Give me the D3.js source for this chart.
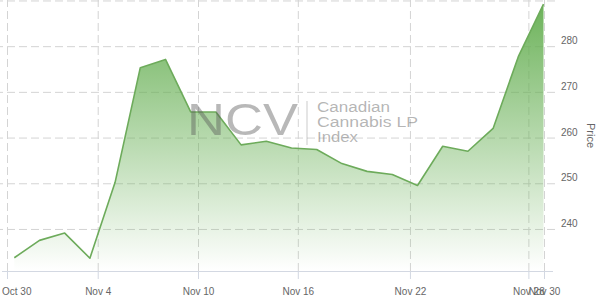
<!DOCTYPE html>
<html>
<head>
<meta charset="utf-8">
<script src="https://cdn.jsdelivr.net/npm/d3@7"></script>
<style>
  body { margin: 0; background: #fff; }
  svg { display: block; font-family: "Liberation Sans", Arial, sans-serif; }
</style>
</head>
<body>
<div id="chart"></div>
<script>
// daily closes, one per trading day (ordinal axis)
const prices = [233.7, 237.5, 239.1, 233.6, 250.2, 275.3, 277.1, 265.6, 265.6, 258.4, 259.2,
                257.7, 257.4, 254.3, 252.6, 251.9, 249.5, 258.1, 257.0, 262.0, 277.7, 289.2];
const tickLabels = ["Oct 30", "Nov 4", "Nov 10", "Nov 16", "Nov 22", "Nov 28", "Nov 30"];
const tickAt = [-0.29, 3.31, 7.29, 11.25, 15.7, 20.4, 21.02]; // position on the ordinal (point index) axis
const gridTicks = [240, 250, 260, 270, 280, 290];
const priceLabels = [240, 250, 260, 270, 280];

const width = 598, height = 298;
const plot = { left: 0, right: 555, top: 0, bottom: 271 };

const svg = d3.select("#chart").append("svg")
    .attr("width", width)
    .attr("height", height);

const x = d3.scaleLinear().domain([0, prices.length - 1]).range([14.3, 543.5]);
const y = d3.scaleLinear().domain([230.8, 290.1]).range([plot.bottom, plot.top]);

const defs = svg.append("defs");
const grad = defs.append("linearGradient")
    .attr("id", "areaFill")
    .attr("x1", 0).attr("y1", 0).attr("x2", 0).attr("y2", 1);
grad.append("stop").attr("offset", "0%").attr("stop-color", "#68b055").attr("stop-opacity", 0.97);
grad.append("stop").attr("offset", "100%").attr("stop-color", "#68b055").attr("stop-opacity", 0);

// horizontal grid
svg.append("g")
    .attr("class", "grid")
    .attr("transform", `translate(${plot.right},0)`)
    .call(d3.axisLeft(y).tickValues(gridTicks).tickSize(plot.right - plot.left).tickFormat(""))
    .call(g => g.select(".domain").remove())
    .call(g => g.selectAll("line")
        .attr("stroke", "#d4d4d4")
        .attr("stroke-dasharray", "8,4"));

// vertical grid
svg.append("g")
    .attr("class", "grid")
    .attr("transform", `translate(0,${plot.bottom})`)
    .call(d3.axisTop(x).tickValues(tickAt).tickSize(plot.bottom - plot.top).tickFormat(""))
    .call(g => g.select(".domain").remove())
    .call(g => g.selectAll("line")
        .attr("stroke", "#d4d4d4")
        .attr("stroke-dasharray", "8,4"));

const area = d3.area()
    .x((d, i) => x(i))
    .y0(plot.bottom)
    .y1(d => y(d));

const line = d3.line()
    .x((d, i) => x(i))
    .y(d => y(d));

svg.append("path")
    .datum(prices)
    .attr("fill", "url(#areaFill)")
    .attr("d", area);

svg.append("path")
    .datum(prices)
    .attr("fill", "none")
    .attr("stroke", "#6dab5b")
    .attr("stroke-width", 1.6)
    .attr("stroke-linejoin", "round")
    .attr("d", line);

// watermark
const mark = svg.append("g").attr("class", "watermark");
mark.append("text")
    .attr("x", 187).attr("y", 135)
    .attr("font-size", 45)
    .attr("textLength", 111)
    .attr("lengthAdjust", "spacingAndGlyphs")
    .attr("fill", "#555")
    .attr("fill-opacity", 0.42)
    .text("NCV");
mark.append("line")
    .attr("x1", 307).attr("x2", 307)
    .attr("y1", 101).attr("y2", 145)
    .attr("stroke", "#999")
    .attr("stroke-opacity", 0.5);
const subLines = ["Canadian", "Cannabis LP", "Index"];
const subWidths = [73, 101, 41];
mark.selectAll("text.sub")
    .data(subLines)
    .join("text")
    .attr("class", "sub")
    .attr("x", 317)
    .attr("y", (d, i) => 112 + i * 15)
    .attr("font-size", 14)
    .attr("textLength", (d, i) => subWidths[i])
    .attr("lengthAdjust", "spacingAndGlyphs")
    .attr("fill", "#777")
    .attr("fill-opacity", 0.55)
    .text(d => d);

// x axis
svg.append("line")
    .attr("x1", 2).attr("x2", 553)
    .attr("y1", plot.bottom + 0.5).attr("y2", plot.bottom + 0.5)
    .attr("stroke", "#d3d8e2");

const xAxis = svg.append("g")
    .attr("transform", `translate(0,${plot.bottom})`)
    .call(d3.axisBottom(x)
        .tickValues(tickAt)
        .tickFormat((d, i) => tickLabels[i])
        .tickSize(8)
        .tickPadding(9));
xAxis.select(".domain").remove();
xAxis.selectAll("line").attr("stroke", "#d3d8e2");
xAxis.selectAll("text")
    .attr("fill", "#666")
    .attr("font-size", 10)
    .attr("font-family", "Liberation Sans, Arial, sans-serif");
// keep labels inside the chart, like the original
xAxis.selectAll(".tick").each(function () {
    const t = d3.select(this).select("text");
    const tx = +d3.select(this).attr("transform").match(/translate\(([-\d.]+)/)[1];
    const left = tx + t.node().getBBox().x;
    if (left < 2) t.attr("x", 2 - left);
});

// y axis (right)
const yAxis = svg.append("g")
    .attr("transform", `translate(${plot.right},0)`)
    .call(d3.axisRight(y).tickValues(priceLabels).tickSize(0).tickPadding(6));
yAxis.select(".domain").remove();
yAxis.selectAll("text")
    .attr("dy", "-2.5px")
    .attr("fill", "#666")
    .attr("font-size", 10)
    .attr("font-family", "Liberation Sans, Arial, sans-serif");

svg.append("text")
    .attr("transform", `translate(587,${(plot.top + plot.bottom) / 2}) rotate(90)`)
    .attr("text-anchor", "middle")
    .attr("fill", "#666")
    .attr("font-size", 11)
    .text("Price");
</script>
</body>
</html>
